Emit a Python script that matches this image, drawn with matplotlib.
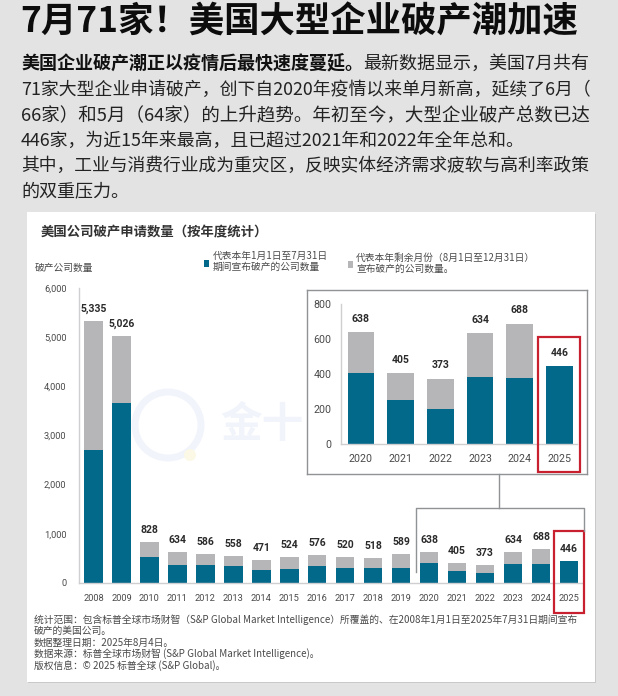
import matplotlib

matplotlib.use("Agg")
import matplotlib.pyplot as plt
from matplotlib.patches import Circle, Rectangle

W, H = 618, 696
CJK = ["Noto Sans CJK SC", "DejaVu Sans"]
NUM = ["Roboto", "DejaVu Sans"]

TEAL = "#03698b"
GRAY = "#b6b6b9"
RED = "#c8202f"
LINE = "#8f9396"

main_years = [str(y) for y in range(2008, 2026)]
main_totals = [5335, 5026, 828, 634, 586, 558, 471, 524, 576, 520, 518, 589, 638, 405, 373, 634, 688, 446]
main_ytd = [2700, 3660, 530, 360, 360, 340, 270, 290, 350, 295, 305, 315, 405, 250, 200, 385, 385, 446]
main_yticks = [0, 1000, 2000, 3000, 4000, 5000, 6000]

inset_years = ["2020", "2021", "2022", "2023", "2024", "2025"]
inset_totals = [638, 405, 373, 634, 688, 446]
inset_ytd = [405, 250, 200, 385, 380, 446]
inset_yticks = [0, 200, 400, 600, 800]

page_title = "7月71家！美国大型企业破产潮加速"
intro_bold = "美国企业破产潮正以疫情后最快速度蔓延。"
intro_lines = [
    "最新数据显示，美国7月共有",
    "71家大型企业申请破产，创下自2020年疫情以来单月新高，延续了6月（",
    "66家）和5月（64家）的上升趋势。年初至今，大型企业破产总数已达",
    "446家，为近15年来最高，且已超过2021年和2022年全年总和。",
    "其中，工业与消费行业成为重灾区，反映实体经济需求疲软与高利率政策",
    "的双重压力。",
]
chart_title = "美国公司破产申请数量（按年度统计）"
footnotes = [
    "统计范围：包含标普全球市场财智（S&P Global Market Intelligence）所覆盖的、在2008年1月1日至2025年7月31日期间宣布",
    "破产的美国公司。",
    "数据整理日期：2025年8月4日。",
    "数据来源：标普全球市场财智 (S&P Global Market Intelligence)。",
    "版权信息：© 2025 标普全球 (S&P Global)。",
]


def pixel_axes(fig, left, top, right, bottom, **kwargs):
    # axes placed by its pixel box in the reference
    return fig.add_axes([left / W, 1 - bottom / H, (right - left) / W, (bottom - top) / H], **kwargs)


def draw_bars(ax, totals, ytd, years, yticks, width, label_size, tick_size, label_gap):
    x = list(range(len(years)))
    rest = [t - y for t, y in zip(totals, ytd)]
    ax.bar(x, ytd, width=width, color=TEAL, zorder=2)
    ax.bar(x, rest, width=width, bottom=ytd, color=GRAY, zorder=2)
    for i, total in enumerate(totals):
        ax.annotate(
            f"{total:,}", (i, total), xytext=(0, label_gap), textcoords="offset points",
            ha="center", va="bottom", fontsize=label_size, fontweight="bold",
            family=NUM, color="#2b2b2b",
        )
    ax.set_xticks(x, years, fontsize=tick_size, family=NUM, color="#4a4a4a")
    ax.set_yticks(yticks, [f"{v:,}" for v in yticks], fontsize=tick_size, family=NUM, color="#4a4a4a")
    ax.tick_params(length=0)
    for side in ("top", "right"):
        ax.spines[side].set_visible(False)
    for side in ("left", "bottom"):
        ax.spines[side].set_color("#cfcfd2")
        ax.spines[side].set_linewidth(1.0)


fig = plt.figure(figsize=(W / 100, H / 100), dpi=100, facecolor="#e3e3e3")

# page background, card and all page text
back = pixel_axes(fig, 0, 0, W, H, zorder=0)
back.set_xlim(0, W)
back.set_ylim(H, 0)
back.axis("off")
back.add_patch(Rectangle((28, 214), 568, 469, color="#c9c9c9", lw=0))
back.add_patch(Rectangle((27, 212), 568, 470, color="white", lw=0))

# faint watermark behind the chart
back.add_patch(Circle((168, 425), 33, fill=False, ec="#f1f4fb", lw=5))
back.add_patch(Circle((190, 455), 6, color="#fbf8e6", lw=0))
back.text(220, 425, "金十", family=CJK, fontsize=30, fontweight="bold", color="#f1f4fb", ha="left", va="center")

back.text(20, 22, page_title, family=CJK, fontsize=25.5, fontweight="bold", color="#0c0c0c", va="center")

BODY_PX = 18
BODY_Y = [64, 90, 116, 141, 166, 191]
# the reference sets each line slightly differently, so sizes follow the line widths
BODY_SIZES = [13, 12.85, 13.3, 12.87, 12.8, 13]
back.text(21, BODY_Y[0], intro_bold, family=CJK, fontsize=13, fontweight="bold", color="#111111", va="center")
back.text(21 + len(intro_bold) * BODY_PX, BODY_Y[0], intro_lines[0], family=CJK, fontsize=13, color="#222222", va="center")
for y, size, line in zip(BODY_Y[1:], BODY_SIZES[1:], intro_lines[1:]):
    back.text(21, y, line, family=CJK, fontsize=size, color="#222222", va="center")

back.text(41, 232, chart_title, family=CJK, fontsize=9.6, fontweight="bold", color="#333333", va="center")
back.text(35, 268, "破产公司数量", family=CJK, fontsize=7, color="#4a4a4a", va="center")

back.add_patch(Rectangle((204, 260), 5, 7, color=TEAL, lw=0))
back.text(212.5, 256, "代表本年1月1日至7月31日", family=CJK, fontsize=7, color="#4a4a4a", va="center")
back.text(212.5, 267, "期间宣布破产的公司数量", family=CJK, fontsize=7, color="#4a4a4a", va="center")
back.add_patch(Rectangle((348, 261), 5, 7, color=GRAY, lw=0))
back.text(356, 258, "代表本年剩余月份（8月1日至12月31日）", family=CJK, fontsize=7, color="#4a4a4a", va="center")
back.text(356, 269, "宣布破产的公司数量。", family=CJK, fontsize=7, color="#4a4a4a", va="center")

for y, line in zip([620, 631, 643, 654, 666], footnotes):
    back.text(34, y, line, family=CJK, fontsize=7.05, color="#4a4a4a", va="center")

# main chart
ax = pixel_axes(fig, 79, 288, 583, 583, zorder=1)
ax.patch.set_alpha(0)
draw_bars(ax, main_totals, main_ytd, main_years, main_yticks, 0.66, 7.5, 6.7, 5)
ax.set_xlim(-0.518, 17.5)
ax.set_ylim(0, 6000)
ax.tick_params(axis="x", pad=8)
ax.tick_params(axis="y", pad=9)

# inset box and chart
frame = pixel_axes(fig, 307, 290, 587, 474, zorder=2)
frame.set_xticks([])
frame.set_yticks([])
for spine in frame.spines.values():
    spine.set_color(LINE)
    spine.set_linewidth(1.0)

inset = pixel_axes(fig, 341, 304, 577, 444, zorder=3)
inset.patch.set_alpha(0)
draw_bars(inset, inset_totals, inset_ytd, inset_years, inset_yticks, 0.67, 7.5, 7.7, 6)
inset.set_xlim(-0.5, 5.44)
inset.set_ylim(0, 800)
inset.tick_params(axis="x", pad=7.5)
inset.tick_params(axis="y", pad=7)

# connector and red highlight boxes on top of everything
over = pixel_axes(fig, 0, 0, W, H, zorder=4)
over.set_xlim(0, W)
over.set_ylim(H, 0)
over.axis("off")
over.plot([499, 499], [474, 508], color=LINE, lw=1.0)
over.plot([416, 416, 584, 584], [572, 508, 508, 531], color=LINE, lw=1.0)
over.add_patch(Rectangle((538, 337), 42, 135, fill=False, ec=RED, lw=1.6))
over.add_patch(Rectangle((554, 531), 30, 82, fill=False, ec=RED, lw=1.6))

fig.savefig("out.png", dpi=100, facecolor=fig.get_facecolor())
